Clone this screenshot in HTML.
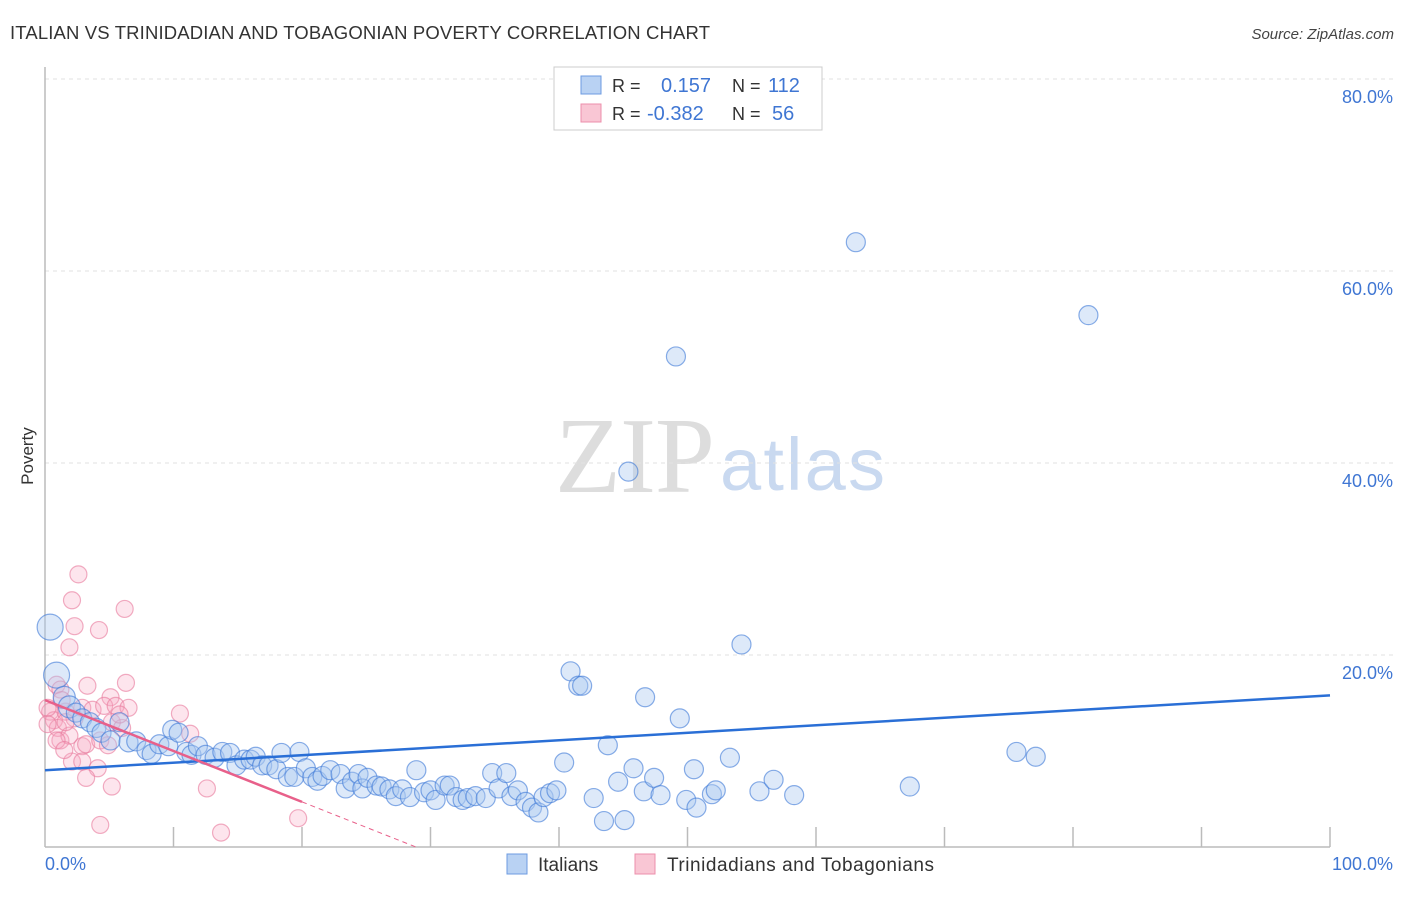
<!DOCTYPE html>
<html><head><meta charset="utf-8"><style>
body{margin:0;background:#fff;font-family:"Liberation Sans",sans-serif;}
svg text{font-family:"Liberation Sans",sans-serif;}
</style></head><body>
<svg id="c" width="1406" height="892">
<text x="10" y="39" font-size="18.5" fill="#333" textLength="700">ITALIAN VS TRINIDADIAN AND TOBAGONIAN POVERTY CORRELATION CHART</text>
<text x="1394" y="39" font-size="15" fill="#444" font-style="italic" text-anchor="end">Source: ZipAtlas.com</text>
<text x="33" y="456" font-size="17" fill="#333" transform="rotate(-90 33 456)" text-anchor="middle">Poverty</text>
<text x="555" y="492" font-size="108" fill="#ddd" style="font-family:'Liberation Serif',serif" textLength="160">ZIP</text>
<text x="720" y="490" font-size="74" fill="#c9d9f0" textLength="165">atlas</text>
<g id="grid"></g>
<g id="pts"></g>
<g id="lines"></g>
<g>
<rect x="554" y="67" width="268" height="63" fill="#fff" stroke="#ccc"/>
<rect x="581" y="76" width="20" height="18" fill="#b9d2f3" stroke="#6d9be0"/>
<rect x="581" y="104" width="20" height="18" fill="#f9c6d4" stroke="#ec8fab"/>
<text x="612" y="92" font-size="18" fill="#333">R =</text><text x="661" y="92" font-size="20" fill="#3f76d3">0.157</text>
<text x="732" y="92" font-size="18" fill="#333">N =</text><text x="768" y="92" font-size="20" fill="#3f76d3">112</text>
<text x="612" y="120" font-size="18" fill="#333">R =</text><text x="647" y="120" font-size="20" fill="#3f76d3">-0.382</text>
<text x="732" y="120" font-size="18" fill="#333">N =</text><text x="772" y="120" font-size="20" fill="#3f76d3">56</text>
</g>
<g>
<rect x="507" y="854" width="20" height="20" fill="#b9d2f3" stroke="#6d9be0"/>
<text x="538" y="871" font-size="19" fill="#333">Italians</text>
<rect x="635" y="854" width="20" height="20" fill="#f9c6d4" stroke="#ec8fab"/>
<text x="667" y="871" font-size="19" fill="#333" textLength="267">Trinidadians and Tobagonians</text>
</g>
</svg>
<script>
const yTicks=[20,40,60,80];
const yTickLabels=["20.0%","40.0%","60.0%","80.0%"];
const xTickLabels=["0.0%","100.0%"];
const itX=[0.4,0.9,1.5,1.9,2.4,2.9,3.5,4.0,4.4,5.1,5.8,6.5,7.1,7.9,8.3,8.9,9.6,9.9,10.4,11.0,11.4,11.9,12.5,13.2,13.8,14.4,14.9,15.5,16.0,16.4,16.9,17.4,18.0,18.4,18.9,19.4,19.8,20.3,20.8,21.2,21.6,22.2,23.0,23.4,23.9,24.4,24.7,25.1,25.8,26.2,26.8,27.3,27.8,28.4,28.9,29.5,30.0,30.4,31.1,31.5,32.0,32.5,32.9,33.5,34.3,34.8,35.3,35.9,36.3,36.8,37.4,37.9,38.4,38.8,39.3,39.8,40.4,40.9,41.5,41.8,42.7,43.5,43.8,44.6,45.1,45.4,45.8,46.6,47.4,47.9,49.1,49.4,49.9,50.5,50.7,51.9,52.2,53.3,54.2,55.6,56.7,58.3,63.1,67.3,75.6,77.1,81.2,46.7];
const itY=[22.9,17.9,15.6,14.6,14.0,13.4,13.0,12.4,11.9,11.1,13.0,10.9,11.0,10.1,9.7,10.7,10.5,12.2,11.9,9.9,9.6,10.5,9.6,9.3,9.9,9.8,8.5,9.1,9.1,9.4,8.5,8.5,8.1,9.8,7.3,7.3,9.9,8.2,7.3,6.9,7.4,8.0,7.6,6.1,6.8,7.6,6.1,7.2,6.4,6.3,6.0,5.3,6.0,5.2,8.0,5.7,5.9,4.9,6.4,6.4,5.2,4.9,5.1,5.3,5.1,7.7,6.1,7.7,5.3,5.9,4.7,4.1,3.6,5.2,5.6,5.9,8.8,18.3,16.8,16.8,5.1,2.7,10.6,6.8,2.8,39.1,8.2,5.8,7.2,5.4,51.1,13.4,4.9,8.1,4.1,5.5,5.9,9.3,21.1,5.8,7.0,5.4,63.0,6.3,9.9,9.4,55.4,15.6];
const ttX=[2.6,2.1,6.2,2.3,4.2,1.9,6.3,3.3,0.9,5.1,1.2,0.4,0.7,1.0,1.6,2.3,2.9,3.7,4.6,5.5,5.2,6.5,6.0,1.2,1.9,2.9,3.2,4.3,4.9,0.9,0.2,0.2,10.5,11.3,2.1,2.9,4.1,3.2,5.2,12.6,4.3,13.7,19.7,1.3,1.6,1.5,5.8];
const ttY=[28.4,25.7,24.8,23.0,22.6,20.8,17.1,16.8,16.9,15.6,16.4,14.1,13.2,12.4,14.1,13.4,14.5,14.3,14.7,14.7,13.0,14.5,12.4,11.1,11.6,10.5,10.7,11.1,10.6,11.1,12.8,14.5,13.9,11.8,8.9,8.9,8.2,7.2,6.3,6.1,2.3,1.5,3.0,15.3,13.0,10.1,13.8];
const blueTrend=[8.0,15.8];
const pinkTrend=[15.3,-0.53];
const X=v=>45+v*12.85, Y=v=>847-v*9.6;
const NS="http://www.w3.org/2000/svg";
function mk(tag,a,parent){const e=document.createElementNS(NS,tag);for(const k in a)e.setAttribute(k,a[k]);parent.appendChild(e);return e;}
const g=document.getElementById('grid');
yTicks.forEach((t,i)=>{
 const l=mk('line',{x1:45,x2:1394,y1:Y(t),y2:Y(t),stroke:'#e2e2e2','stroke-dasharray':'4,4'},g);
 
 
 const tx=mk('text',{x:1393,y:Y(t)+24,'font-size':18,fill:'#3f76d3','text-anchor':'end'},g);
 tx.textContent=yTickLabels[i];
 
 
});
mk('line',{x1:45,x2:45,y1:67,y2:847,stroke:'#bbb','stroke-width':1.5},g);
mk('line',{x1:45,x2:1330,y1:847,y2:847,stroke:'#bbb','stroke-width':1.5},g);
for(let k=1;k<=10;k++){const t=mk('line',{x1:X(k*10),x2:X(k*10),y1:827,y2:847,stroke:'#bbb','stroke-width':1.5},g);
 
 }
const xl0=mk('text',{x:45,y:870,'font-size':18,fill:'#3f76d3'},g);xl0.textContent=xTickLabels[0];


const xl1=mk('text',{x:1393,y:870,'font-size':18,fill:'#3f76d3','text-anchor':'end'},g);xl1.textContent=xTickLabels[1];


const p=document.getElementById('pts');
ttX.forEach((v,i)=>{const c=mk('circle',{cx:X(v),cy:Y(ttY[i]),r:8.5,fill:'rgba(247,170,195,0.3)',stroke:'rgba(232,120,155,0.6)','stroke-width':1.2},p);
 
 });
itX.forEach((v,i)=>{const r=i<2?13:(i<4?11:9.5);const c=mk('circle',{cx:X(v),cy:Y(itY[i]),r:r,fill:'rgba(170,200,240,0.4)',stroke:'rgba(60,120,215,0.6)','stroke-width':1.2},p);
 
 });
const L=document.getElementById('lines');
const bl=mk('line',{x1:X(0),y1:Y(blueTrend[0]),x2:X(100),y2:Y(blueTrend[1]),stroke:'#2a6fd6','stroke-width':2.5},L);


const pe=20, z=-pinkTrend[0]/pinkTrend[1];
const pl=mk('line',{x1:X(0),y1:Y(pinkTrend[0]),x2:X(pe),y2:Y(pinkTrend[0]+pinkTrend[1]*pe),stroke:'#e8608a','stroke-width':2.5},L);


const pd=mk('line',{x1:X(pe),y1:Y(pinkTrend[0]+pinkTrend[1]*pe),x2:X(z),y2:Y(0),stroke:'#e8608a','stroke-width':1,'stroke-dasharray':'5,4'},L);


</script>
</body></html>
